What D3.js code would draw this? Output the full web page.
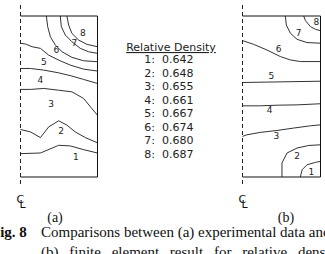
<!DOCTYPE html>
<html>
<head>
<meta charset="utf-8">
<script src="https://cdn.jsdelivr.net/npm/d3@7"></script>
<style>
  body { margin: 0; background: #fff; }
  svg { display: block; }
</style>
</head>
<body>
<div id="chart"></div>
<script>
// contour levels (legend)
var levels = ["1:", "2:", "3:", "4:", "5:", "6:", "7:", "8:"];
var densities = ["0.642", "0.648", "0.655", "0.661", "0.667", "0.674", "0.680", "0.687"];

// contour lines, x = r / R (0 = centre line), y = z / H (0 = bottom)
var expLines = [
  [[0,0.145],[0.259,0.149],[0.496,0.197],[0.647,0.193],[0.819,0.170],[1,0.149]],
  [[0,0.295],[0.129,0.280],[0.259,0.245],[0.366,0.311],[0.496,0.349],[0.603,0.322],[0.711,0.280],[0.841,0.245],[1,0.212]],
  [[0,0.544],[0.129,0.544],[0.302,0.550],[0.496,0.539],[0.668,0.529],[0.819,0.488],[0.927,0.425],[1,0.384]],
  [[0,0.674],[0.129,0.674],[0.302,0.664],[0.496,0.647],[0.668,0.627],[0.819,0.606],[1,0.581]],
  [[0,0.830],[0.065,0.826],[0.151,0.809],[0.259,0.799],[0.366,0.757],[0.496,0.726],[0.647,0.695],[0.819,0.670],[1,0.658]],
  [[0.336,1],[0.353,0.934],[0.388,0.871],[0.453,0.819],[0.539,0.778],[0.668,0.743],[0.819,0.722],[1,0.716]],
  [[0.517,1],[0.530,0.934],[0.582,0.882],[0.668,0.840],[0.776,0.799],[0.884,0.778],[1,0.768]],
  [[0.603,1],[0.625,0.944],[0.668,0.892],[0.754,0.851],[0.862,0.824],[1,0.809]]
];
var expLabels = [[0.72,0.128],[0.526,0.286],[0.397,0.456],[0.259,0.602],[0.302,0.716],[0.466,0.788],[0.698,0.834],[0.810,0.898]];

var feLines = [
  [[0.742,0],[0.764,0.045],[0.828,0.076],[0.936,0.091],[1,0.097]],
  [[0.506,0],[0.506,0.087],[0.571,0.149],[0.700,0.180],[0.850,0.196],[1,0.200]],
  [[0,0.252],[0.056,0.262],[0.227,0.277],[0.442,0.289],[0.657,0.304],[0.871,0.318],[1,0.324]],
  [[0,0.442],[0.227,0.442],[0.442,0.446],[0.700,0.448],[1,0.455]],
  [[0,0.587],[1,0.595]],
  [[0,0.847],[0.142,0.824],[0.313,0.789],[0.485,0.748],[0.614,0.727],[0.742,0.717],[1,0.717]],
  [[0.549,1],[0.562,0.944],[0.614,0.893],[0.700,0.855],[0.828,0.835],[1,0.831]],
  [[0.785,1],[0.807,0.971],[0.871,0.934],[0.936,0.917],[1,0.909]]
];
var feLabels = [[0.884,0.035],[0.700,0.132],[0.433,0.256],[0.348,0.417],[0.369,0.628],[0.464,0.793],[0.721,0.893],[0.948,0.965]];

var width = 325, height = 254;
var lineColor = "#333";

var svg = d3.select("#chart").append("svg")
  .attr("width", width)
  .attr("height", height);

function drawPanel(lines, labels, x0, x1, tag, tagX) {
  var x = d3.scaleLinear().domain([0, 1]).range([x0, x1]);
  var y = d3.scaleLinear().domain([0, 1]).range([177, 16]);
  var g = svg.append("g");

  var line = d3.line().x(d => x(d[0])).y(d => y(d[1]));

  g.selectAll("path.c")
    .data(lines)
    .join("path")
    .attr("class", "c")
    .attr("d", line)
    .attr("fill", "none")
    .attr("stroke", lineColor)
    .attr("stroke-width", 1);

  g.selectAll("text.lab")
    .data(labels)
    .join("text")
    .attr("class", "lab")
    .attr("x", d => x(d[0]))
    .attr("y", d => y(d[1]))
    .attr("dy", "0.35em")
    .attr("text-anchor", "middle")
    .attr("font-family", "DejaVu Sans")
    .attr("font-size", 9)
    .attr("fill", "#222")
    .text((d, i) => i + 1);

  // outline (top, right, bottom)
  g.append("path")
    .attr("d", "M" + x(0) + "," + y(1) + "H" + x(1) + "V" + y(0) + "H" + x(0))
    .attr("fill", "none")
    .attr("stroke", "#111")
    .attr("stroke-width", 1);

  // centre line
  g.append("line")
    .attr("x1", x(0)).attr("x2", x(0))
    .attr("y1", 5).attr("y2", 187)
    .attr("stroke", "#222")
    .attr("stroke-width", 1)
    .attr("stroke-dasharray", "4,3");

  // centre line mark: C over L
  var cl = g.append("g")
    .attr("font-family", "DejaVu Sans")
    .attr("font-size", 11)
    .attr("fill", "#111");
  cl.append("text").attr("x", x(0) - 4).attr("y", 203).text("C");
  cl.append("text").attr("x", x(0) - 1).attr("y", 208).text("L");

  g.append("text")
    .attr("x", tagX)
    .attr("y", 222)
    .attr("text-anchor", "middle")
    .attr("font-family", "Liberation Serif")
    .attr("font-size", 14)
    .attr("fill", "#111")
    .text(tag);
}

drawPanel(expLines, expLabels, 20.5, 97.5, "(a)", 55);
drawPanel(feLines, feLabels, 242.5, 320.5, "(b)", 286);

// legend
var leg = svg.append("g").attr("font-family", "DejaVu Sans").attr("font-size", 11).attr("fill", "#222");
leg.append("text")
  .attr("x", 171).attr("y", 51)
  .attr("text-anchor", "middle")
  .attr("text-decoration", "underline")
  .text("Relative Density");

var ly = d3.scalePoint().domain(levels).range([63, 158]);
leg.selectAll("text.k")
  .data(levels)
  .join("text")
  .attr("class", "k")
  .attr("x", 155)
  .attr("y", d => ly(d))
  .attr("text-anchor", "end")
  .text(d => d);
leg.selectAll("text.v")
  .data(densities)
  .join("text")
  .attr("class", "v")
  .attr("x", 162)
  .attr("y", (d, i) => ly(levels[i]))
  .text(d => d);

// caption
var cap = svg.append("g").attr("font-family", "Liberation Serif").attr("font-size", 15).attr("fill", "#111");
cap.append("text")
  .attr("x", -9).attr("y", 237)
  .attr("font-weight", "bold")
  .text("Fig. 8");
cap.append("text")
  .attr("x", 41).attr("y", 237)
  .text("Comparisons between (a) experimental data and");
cap.append("text")
  .attr("x", 41).attr("y", 257)
  .attr("word-spacing", 7)
  .text("(b) finite element result for relative density");
</script>
</body>
</html>
